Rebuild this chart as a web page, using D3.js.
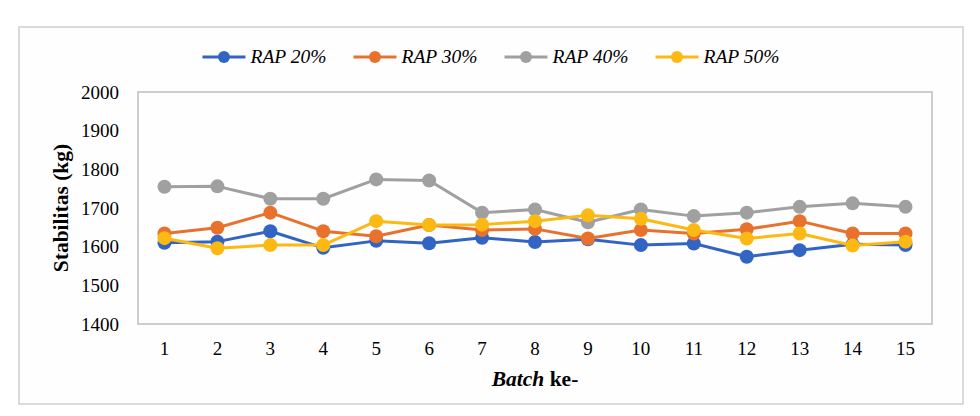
<html>
<head>
  <style>
    body {
      margin: 0;
      background: #ffffff;
    }

    svg text {
      font-family: "Liberation Serif", "Times New Roman", serif;
      fill: #000000;
    }

    .tick-label {
      font-size: 19px;
    }

    .legend-label {
      font-size: 19.5px;
      font-style: italic;
    }

    .axis-title {
      font-size: 21.5px;
      font-weight: bold;
    }
  </style>
</head>

<body>
  <script src="https://cdn.jsdelivr.net/npm/d3@7"></script>
  <script>
    // values
    var batches = ["1", "2", "3", "4", "5", "6", "7", "8", "9", "10", "11", "12", "13", "14", "15"];
    var seriesNames = ["RAP 20%", "RAP 30%", "RAP 40%", "RAP 50%"];
    var rap20 = [1610, 1613, 1640, 1597, 1615, 1609, 1623, 1612, 1619, 1604, 1608, 1574, 1591, 1606, 1604];
    var rap30 = [1634, 1649, 1688, 1640, 1627, 1656, 1643, 1646, 1621, 1643, 1634, 1645, 1666, 1634, 1634];
    var rap40 = [1755, 1756, 1724, 1724, 1774, 1771, 1688, 1696, 1663, 1696, 1679, 1688, 1703, 1712, 1703];
    var rap50 = [1622, 1596, 1604, 1604, 1666, 1656, 1657, 1666, 1681, 1672, 1643, 1621, 1634, 1603, 1613];
    var yTicks = [1400, 1500, 1600, 1700, 1800, 1900, 2000];

    var colors = ["#3264c3", "#e8722c", "#a0a0a0", "#fcb913"];
    var series = [rap20, rap30, rap40, rap50].map((vals, i) => ({
      name: seriesNames[i],
      color: colors[i],
      values: vals
    }));

    var width = 980;
    var height = 416;
    var plot = { left: 138, right: 932, top: 92, bottom: 324 };

    var svg = d3
      .select("body")
      .append("svg")
      .attr("width", width)
      .attr("height", height);

    // outer chart frame
    svg.append("rect")
      .attr("x", 19)
      .attr("y", 27)
      .attr("width", 944)
      .attr("height", 377)
      .style("fill", "#fefefe")
      .style("stroke", "#d0d0d0")
      .style("stroke-width", 1.5);

    var x = d3.scaleBand().domain(batches).range([plot.left, plot.right]);
    var y = d3.scaleLinear().domain([1400, 2000]).range([plot.bottom, plot.top]);
    var cx = (d, i) => x(batches[i]) + x.bandwidth() / 2;

    // plot area border
    svg.append("rect")
      .attr("x", plot.left)
      .attr("y", plot.top)
      .attr("width", plot.right - plot.left)
      .attr("height", plot.bottom - plot.top)
      .style("fill", "none")
      .style("stroke", "#bdbdbd")
      .style("stroke-width", 1.5);

    var yAxis = svg.append("g")
      .attr("transform", `translate(${plot.left},0)`)
      .call(d3.axisLeft(y).tickValues(yTicks).tickSize(0).tickPadding(19).tickFormat(d3.format("d")));
    yAxis.attr("font-family", null).attr("font-size", null);
    yAxis.select(".domain").remove();
    yAxis.selectAll("text").attr("class", "tick-label");

    var xAxis = svg.append("g")
      .attr("transform", `translate(0,${plot.bottom})`)
      .call(d3.axisBottom(x).tickSize(0));
    xAxis.attr("font-family", null).attr("font-size", null);
    xAxis.select(".domain").remove();
    xAxis.selectAll("text")
      .attr("class", "tick-label")
      .attr("y", 31)
      .attr("dy", 0);

    // axis titles
    svg.append("text")
      .attr("class", "axis-title")
      .attr("transform", `translate(68,${(plot.top + plot.bottom) / 2}) rotate(-90)`)
      .attr("text-anchor", "middle")
      .text("Stabilitas (kg)");

    var xTitle = svg.append("text")
      .attr("class", "axis-title")
      .attr("x", (plot.left + plot.right) / 2)
      .attr("y", 386)
      .attr("text-anchor", "middle");
    xTitle.append("tspan").style("font-style", "italic").text("Batch");
    xTitle.append("tspan").text(" ke-");

    // lines and markers
    var line = d3.line().x(cx).y(d => y(d));
    var seriesG = svg.selectAll(".series")
      .data(series)
      .join("g")
      .attr("class", "series");

    seriesG.append("path")
      .attr("d", d => line(d.values))
      .style("fill", "none")
      .style("stroke", d => d.color)
      .style("stroke-width", 3)
      .style("stroke-linejoin", "round");

    seriesG.each(function (s) {
      d3.select(this).selectAll("circle")
        .data(s.values)
        .join("circle")
        .attr("cx", cx)
        .attr("cy", d => y(d))
        .attr("r", 7)
        .style("fill", s.color);
    });

    // legend, centred above the plot
    var legendY = 57;
    var legend = svg.append("g");
    var lx = 0;
    series.forEach(s => {
      var item = legend.append("g").attr("transform", `translate(${lx},0)`);
      item.append("line")
        .attr("x1", 0).attr("x2", 43)
        .attr("y1", legendY).attr("y2", legendY)
        .style("stroke", s.color)
        .style("stroke-width", 3);
      item.append("circle")
        .attr("cx", 21.5).attr("cy", legendY).attr("r", 6)
        .style("fill", s.color);
      var t = item.append("text")
        .attr("class", "legend-label")
        .attr("x", 48)
        .attr("y", legendY)
        .attr("dy", "0.33em")
        .text(s.name);
      lx += 48 + t.node().getComputedTextLength() + 27;
    });
    var legendW = lx - 27;
    legend.attr("transform", `translate(${(19 + 963) / 2 - legendW / 2},0)`);
  </script>
</body>

</html>
